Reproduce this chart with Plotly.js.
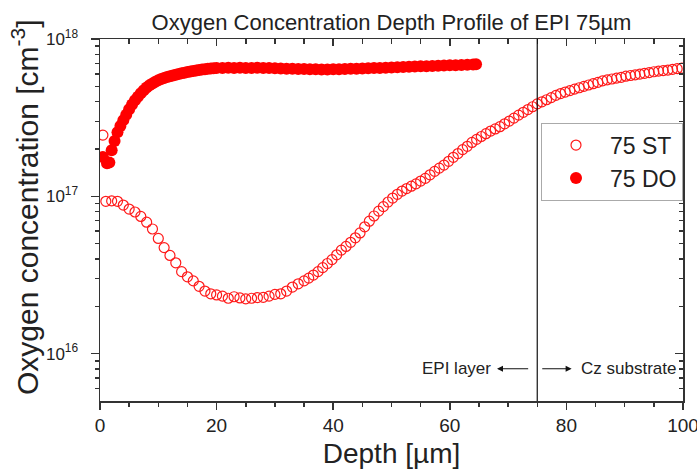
<!DOCTYPE html>
<html>
<head>
<meta charset="utf-8">
<script src="https://cdn.plot.ly/plotly-3.0.1.min.js"></script>
<style>html,body{margin:0;padding:0;background:#fff;}#chart{width:697px;height:473px;}</style>
</head>
<body>
<div id="chart"></div>
<script>
// 75 ST (open circles)
const stDepth = [0.5,1,2,3,4,5,6,7,8,9,10,11,12,13,14,15,16,17,18,19,20,21,22,23,24,25,26,27,28,29,30,31,32,33,34,
  35.0,35.8,36.6,37.4,38.2,39.0,39.8,40.6,41.4,42.2,43.0,43.8,44.6,45.4,46.2,47.0,47.8,48.6,49.4,50.2,51.0,51.8,52.6,53.4,54.2,55.0,
  55.8,56.6,57.4,58.2,59.0,59.8,60.6,61.4,62.2,63.0,63.8,64.6,65.4,66.2,67.0,67.8,68.6,69.4,70.2,71.0,71.8,72.6,73.4,74.2,75.0,
  75.8,76.6,77.4,78.2,79.0,79.8,80.6,81.4,82.2,83.0,83.8,84.6,85.4,86.2,87.0,87.8,88.6,89.4,90.2,91.0,91.8,92.6,93.4,94.2,95.0,
  95.8,96.6,97.4,98.2,99.0,99.8];
const stConc = [2.45e17,9.3e16,9.35e16,9.3e16,8.8e16,8.3e16,7.95e16,7.45e16,6.85e16,6.2e16,5.4e16,4.72e16,4.21e16,3.78e16,3.32e16,3.08e16,2.9e16,2.68e16,2.5e16,2.4e16,2.36e16,2.32e16,2.25e16,2.3e16,2.26e16,2.23e16,2.25e16,2.27e16,2.28e16,2.32e16,2.38e16,2.4e16,2.5e16,2.65e16,2.78e16,
  2.9e16,3.02e16,3.16e16,3.32e16,3.52e16,3.74e16,3.96e16,4.25e16,4.55e16,4.8e16,5.1e16,5.45e16,5.85e16,6.4e16,6.95e16,7.5e16,8.05e16,8.6e16,9.2e16,9.75e16,1.03e17,1.08e17,1.12e17,1.16e17,1.2e17,1.25e17,
  1.3e17,1.37e17,1.44e17,1.51e17,1.58e17,1.67e17,1.77e17,1.87e17,1.98e17,2.08e17,2.2e17,2.3e17,2.4e17,2.5e17,2.6e17,2.68e17,2.77e17,2.89e17,3.01e17,3.14e17,3.28e17,3.42e17,3.56e17,3.71e17,3.87e17,
  3.99e17,4.11e17,4.24e17,4.38e17,4.5e17,4.6e17,4.7e17,4.8e17,4.9e17,5.0e17,5.1e17,5.2e17,5.3e17,5.42e17,5.5e17,5.57e17,5.64e17,5.71e17,5.8e17,5.86e17,5.92e17,5.98e17,6.05e17,6.12e17,6.19e17,
  6.25e17,6.3e17,6.35e17,6.42e17,6.48e17,6.52e17];

// 75 DO (filled circles)
const doDepth = [0.5,1.2,1.6,2.0,2.5,3.0,3.5,4.0,4.5,5.0,5.5,6.0,6.5,7.0,7.5,8.0,8.5,9.0,9.5,10,10.5,11,11.5,12,12.5,13,13.5,14,14.5,15,15.5,16,16.5,17,17.5,18,18.5,19,19.5,20,
  21,22,23,24,25,26,27,28,29,30,31,32,33,34,35,36,37,38,39,40,41,42,43,44,45,46,47,48,49,50,51,52,53,54,55,56,57,58,59,60,61,62,63,64,64.5];
const doConc = [1.78e17,1.62e17,1.64e17,1.96e17,2.25e17,2.55e17,2.8e17,3.05e17,3.3e17,3.58e17,3.84e17,4.08e17,4.3e17,4.52e17,4.73e17,4.92e17,5.08e17,5.22e17,5.35e17,5.46e17,5.56e17,5.65e17,5.73e17,5.8e17,5.87e17,5.93e17,5.99e17,6.05e17,6.11e17,6.17e17,6.22e17,6.27e17,6.31e17,6.35e17,6.39e17,6.43e17,6.46e17,6.49e17,6.51e17,6.53e17,
  6.55e17,6.56e17,6.55e17,6.57e17,6.55e17,6.54e17,6.56e17,6.55e17,6.53e17,6.52e17,6.5e17,6.48e17,6.47e17,6.45e17,6.44e17,6.42e17,6.42e17,6.4e17,6.41e17,6.42e17,6.43e17,6.45e17,6.46e17,6.48e17,6.5e17,6.52e17,6.54e17,6.55e17,6.57e17,6.6e17,6.62e17,6.64e17,6.66e17,6.68e17,6.7e17,6.72e17,6.74e17,6.76e17,6.78e17,6.8e17,6.82e17,6.84e17,6.86e17,6.88e17,6.9e17];

const seriesNames = ['75 ST', '75 DO'];
const xTickVals = [0,20,40,60,80,100];
const yTickVals = [1e16, 1e17, 1e18];
const yTickText = ['10<sup>16</sup>', '10<sup>17</sup>', '10<sup>18</sup>'];
const yMinorVals = [6e15,7e15,8e15,9e15,2e16,3e16,4e16,5e16,6e16,7e16,8e16,9e16,2e17,3e17,4e17,5e17,6e17,7e17,8e17,9e17];
const boundaryDepth = 75;
const labelEpi = 'EPI layer';
const labelCz = 'Cz substrate';
const titleText = 'Oxygen Concentration Depth Profile of EPI 75µm';
const xTitle = 'Depth [µm]';
const yTitle = 'Oxygen concentration [cm<sup>-3</sup>]';

const FONT = 'Liberation Sans, Arial, Helvetica, sans-serif';
const AX = '#333';
const TXT = '#222';
const yRange = [Math.log10(5e15), 18];

const traces = [
  {x: stDepth, y: stConc, name: seriesNames[0], type: 'scatter', mode: 'markers',
   marker: {symbol: 'circle-open', size: 10, color: '#ff1a1a', line: {width: 1.2, color: '#ff1a1a'}}},
  {x: doDepth, y: doConc, name: seriesNames[1], type: 'scatter', mode: 'markers',
   marker: {symbol: 'circle', size: 12, color: '#ff0000'}},
  {x: [], y: [], xaxis: 'x2', yaxis: 'y2', showlegend: false, hoverinfo: 'skip', type: 'scatter', mode: 'markers'}
];

const yl = 15.904;
const minorY = (dir) => ({tickmode: 'array', tickvals: yMinorVals, ticks: dir, ticklen: 4, tickwidth: 1.5, tickcolor: AX, showgrid: false});
const layout = {
  width: 697, height: 473,
  margin: {l: 100, r: 14, t: 39, b: 72},
  paper_bgcolor: '#fff', plot_bgcolor: '#fff',
  font: {family: FONT, color: TXT},
  showlegend: true,
  title: {text: titleText, font: {size: 22, family: FONT, color: TXT},
          x: 0.5, xref: 'paper', xanchor: 'center', y: 0.953, yref: 'container', yanchor: 'middle'},
  xaxis: {range: [0, 100], tickmode: 'array', tickvals: xTickVals, ticktext: xTickVals.map(String), showgrid: false, zeroline: false,
          showline: true, linecolor: AX, linewidth: 1.5, ticks: 'outside', ticklen: 7, tickwidth: 1.5, tickcolor: AX,
          ticklabeloverflow: 'allow',
          minor: {dtick: 5, ticks: 'outside', ticklen: 4, tickwidth: 1.5, tickcolor: AX, showgrid: false},
          tickfont: {size: 19, family: FONT, color: TXT},
          title: {text: xTitle, font: {size: 28, family: FONT, color: TXT}, standoff: 8}},
  yaxis: {type: 'log', range: yRange, tickmode: 'array', tickvals: yTickVals, ticktext: yTickText, showgrid: false, zeroline: false,
          showline: true, linecolor: AX, linewidth: 1.5, ticks: 'outside', ticklen: 8, tickwidth: 1.5, tickcolor: AX,
          ticklabelstandoff: 9,
          minor: minorY('outside'),
          tickfont: {size: 17, family: FONT, color: TXT}},
  xaxis2: {overlaying: 'x', side: 'top', anchor: 'y', range: [0, 100], tickmode: 'array', tickvals: xTickVals, showticklabels: false,
           showgrid: false, zeroline: false, showline: true, linecolor: AX, linewidth: 1.5,
           ticks: 'inside', ticklen: 7, tickwidth: 1.5, tickcolor: AX,
           minor: {dtick: 5, ticks: 'inside', ticklen: 5, tickwidth: 1.5, tickcolor: AX, showgrid: false}},
  yaxis2: {overlaying: 'y', side: 'right', anchor: 'x', type: 'log', range: yRange, tickmode: 'array', tickvals: yTickVals, showticklabels: false,
           showgrid: false, zeroline: false, showline: true, linecolor: AX, linewidth: 1.5,
           ticks: 'inside', ticklen: 8, tickwidth: 1.5, tickcolor: AX,
           minor: minorY('inside')},
  legend: {x: 1, xanchor: 'right', y: 0.769, yanchor: 'top', bgcolor: '#fff', bordercolor: '#aaa', borderwidth: 1,
           font: {size: 23, family: FONT, color: TXT}, itemwidth: 58, tracegroupgap: 0},
  shapes: [
    {type: 'line', xref: 'x', yref: 'paper', x0: boundaryDepth, x1: boundaryDepth, y0: 0, y1: 1, line: {color: '#111', width: 1.2}}
  ],
  annotations: [
    {x: 0, y: 0, xref: 'paper', yref: 'paper', xanchor: 'center', yanchor: 'middle', text: yTitle, showarrow: false, textangle: -90,
     font: {size: 30, family: FONT, color: TXT}},
    {x: 61.2, y: yl, xref: 'x', yref: 'y', text: labelEpi, showarrow: false, font: {size: 17, family: FONT, color: TXT}},
    {x: 90.6, y: yl, xref: 'x', yref: 'y', text: labelCz, showarrow: false, font: {size: 17, family: FONT, color: TXT}},
    {x: 68.1, y: yl, xref: 'x', yref: 'y', ax: 73.7, ay: yl, axref: 'x', ayref: 'y', text: '', showarrow: true,
     arrowhead: 2, arrowsize: 1, arrowwidth: 1.2, arrowcolor: '#111'},
    {x: 80.9, y: yl, xref: 'x', yref: 'y', ax: 75.6, ay: yl, axref: 'x', ayref: 'y', text: '', showarrow: true,
     arrowhead: 2, arrowsize: 1, arrowwidth: 1.2, arrowcolor: '#111'}
  ]
};
// place rotated y-title: centre at pixel (25, 207)
layout.annotations[0].x = (25 - layout.margin.l) / (697 - layout.margin.l - layout.margin.r);
layout.annotations[0].y = (473 - layout.margin.b - 207) / (473 - layout.margin.t - layout.margin.b);

Plotly.newPlot('chart', traces, layout, {displayModeBar: false, staticPlot: true});
</script>
</body>
</html>
